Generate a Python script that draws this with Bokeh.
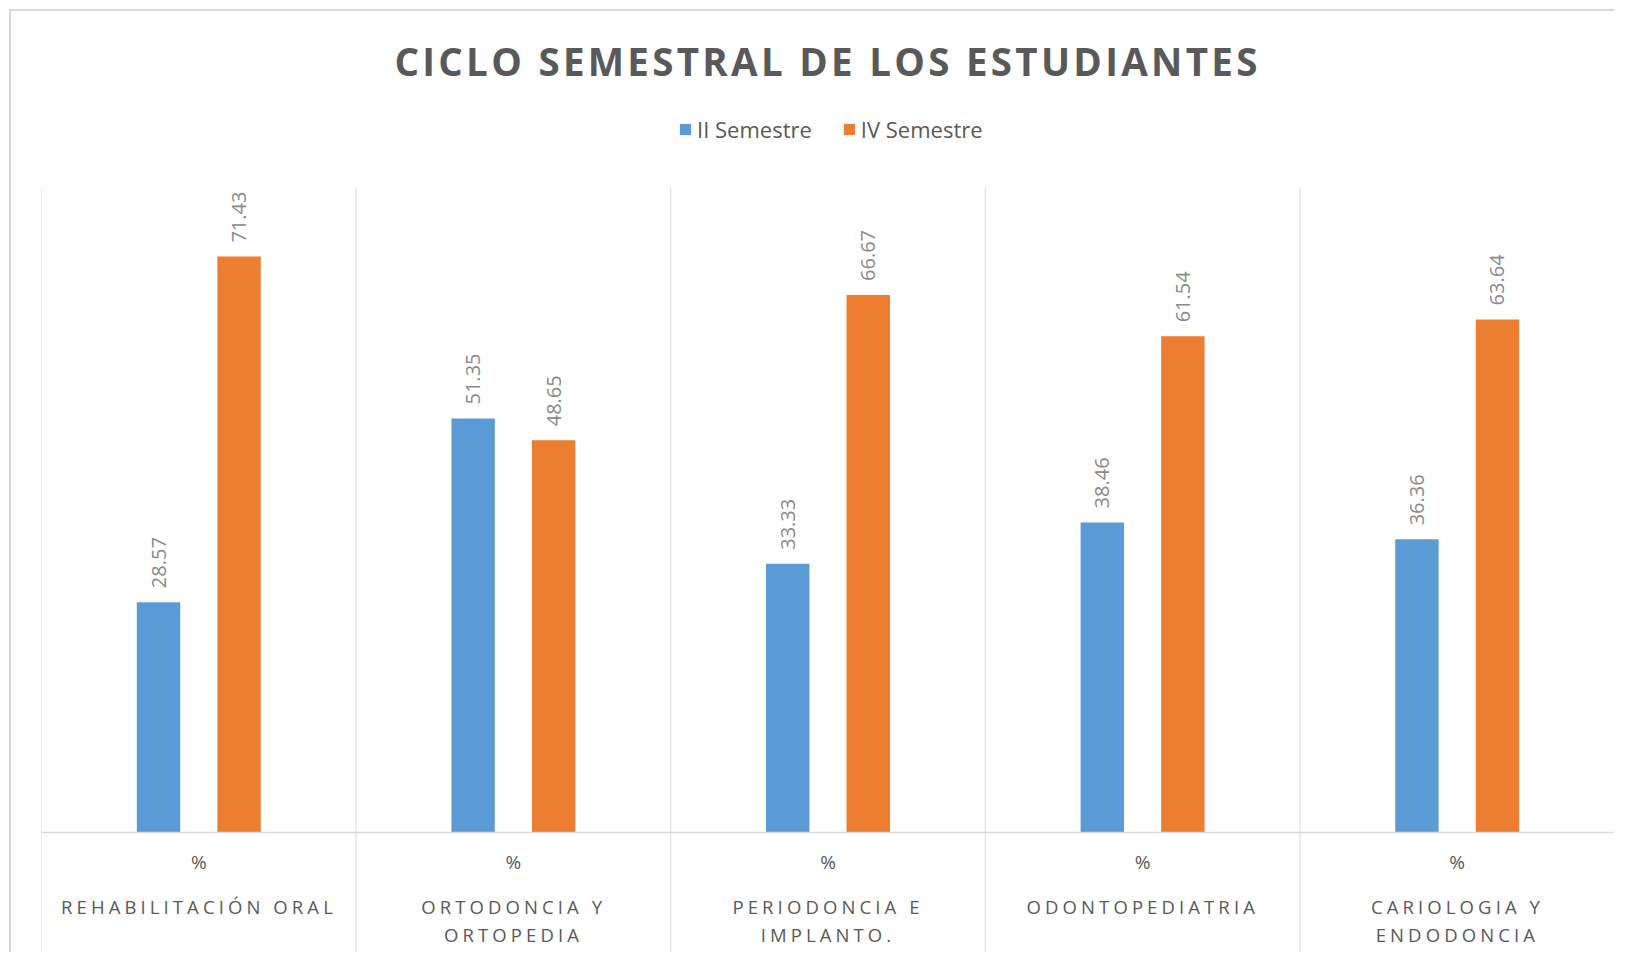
from bokeh.plotting import figure
from bokeh.models import (ColumnDataSource, FactorRange, Range1d, Span, Label,
                          Legend, LegendItem, CustomJS)
from bokeh.document import Document
from bokeh.transform import dodge
from bokeh.core.properties import value
from bokeh.embed import file_html
from bokeh.resources import INLINE
import math

# ---------------- data ----------------
categories = ["REHABILITACIÓN ORAL", "ORTODONCIA Y ORTOPEDIA",
              "PERIODONCIA E IMPLANTO.", "ODONTOPEDIATRIA",
              "CARIOLOGIA Y ENDODONCIA"]
category_labels = ["REHABILITACIÓN ORAL", "ORTODONCIA Y\nORTOPEDIA",
                   "PERIODONCIA E\nIMPLANTO.", "ODONTOPEDIATRIA",
                   "CARIOLOGIA Y\nENDODONCIA"]
unit_labels = ["%", "%", "%", "%", "%"]
series_names = ["II Semestre", "IV Semestre"]
ii_semestre = [28.57, 51.35, 33.33, 38.46, 36.36]
iv_semestre = [71.43, 48.65, 66.67, 61.54, 63.64]
title_text = "CICLO SEMESTRAL DE LOS ESTUDIANTES"

BLUE = "#5B9BD5"
ORANGE = "#ED7D31"
TXT = "#595959"
LBL = "#8a8a8a"
GRID = "#d9d9d9"
FONT = "Open Sans"

Y_TOP = 80.0       # top of the category separators
Y_MIN = -15.13
Y_MAX = 101.83

src = ColumnDataSource(dict(
    cat=categories, lab=category_labels, unit=unit_labels,
    ii=ii_semestre, iv=iv_semestre,
    ii_txt=["{:.2f}".format(v) for v in ii_semestre],
    iv_txt=["{:.2f}".format(v) for v in iv_semestre],
    zero=[0] * len(categories),
    ybot=[Y_MIN] * len(categories),
    ytop=[Y_TOP] * len(categories),
))
last = ColumnDataSource(dict(cat=categories[-1:], ybot=[Y_MIN], ytop=[Y_TOP]))

p = figure(width=1605, height=943,
           x_range=FactorRange(factors=categories, range_padding=0),
           y_range=Range1d(Y_MIN, Y_MAX),
           output_backend="svg", toolbar_location=None,
           x_axis_location=None, y_axis_location=None,
           min_border_left=30, min_border_right=2,
           min_border_top=0, min_border_bottom=0,
           background_fill_color="white", border_fill_color="white",
           styles={"margin-left": "9px", "margin-top": "9px",
                   "border-left": "2px solid #d9d9d9",
                   "border-top": "2px solid #d9d9d9"})
p.grid.visible = False
p.outline_line_color = None

# separators and baseline
p.segment(x0=dodge("cat", -0.5, range=p.x_range), x1=dodge("cat", -0.5, range=p.x_range),
          y0="ybot", y1="ytop", source=src, line_color=GRID, line_width=1)
p.segment(x0=dodge("cat", 0.5, range=p.x_range), x1=dodge("cat", 0.5, range=p.x_range),
          y0="ybot", y1="ytop", source=last, line_color=GRID, line_width=1)
p.add_layout(Span(location=0, dimension="width", line_color=GRID, line_width=1.5))

off = 0.128
bw = 0.138
r_ii = p.vbar(x=dodge("cat", -off, range=p.x_range), top="ii", width=bw,
              source=src, fill_color=BLUE, line_color=None)
r_iv = p.vbar(x=dodge("cat", off, range=p.x_range), top="iv", width=bw,
              source=src, fill_color=ORANGE, line_color=None)

# value labels (rotated)
for col, txt, d in (("ii", "ii_txt", -off), ("iv", "iv_txt", off)):
    p.text(x=dodge("cat", d, range=p.x_range), y=col, text=txt, source=src,
           angle=math.pi / 2, text_align="left", text_baseline="middle",
           y_offset=-14, text_font=value(FONT), text_font_size="20px",
           text_color=LBL)

# category labels below the baseline
p.text(x="cat", y="zero", text="unit", source=src, y_offset=29,
       text_align="center", text_baseline="middle",
       text_font=value(FONT), text_font_size="19px", text_color=TXT)
p.text(x="cat", y="zero", text="lab", source=src, y_offset=61,
       text_align="center", text_baseline="top", text_line_height=1.125,
       text_font=value(FONT), text_font_size="18.5px", text_color=TXT)

# title
p.add_layout(Label(x=786, y=894, x_units="screen", y_units="screen",
                   text=title_text, text_align="center", text_baseline="middle",
                   text_font=FONT, text_font_size="38.5px",
                   text_font_style="bold", text_color=TXT))

# legend
legend = Legend(items=[LegendItem(label=series_names[0], renderers=[r_ii]),
                       LegendItem(label=series_names[1], renderers=[r_iv])],
                orientation="horizontal", location=(637, 810),
                glyph_width=14, glyph_height=14, label_standoff=5,
                spacing=30, padding=0, margin=0,
                border_line_color=None, background_fill_alpha=0,
                label_text_font=FONT, label_text_font_size="22px",
                label_text_color=TXT)
p.add_layout(legend)

# letter spacing like the original (applied to the svg text elements)
spacing_js = CustomJS(code="""
const rules = [[18.5, 4.1, true], [38.5, 3.3, true]];
function handle(t) {
  if (t.getAttribute('data-ls') === '1') return;
  let fs = parseFloat(t.getAttribute('font-size') || '');
  if (!fs) { try { fs = parseFloat(getComputedStyle(t).fontSize || '0'); } catch (e) { fs = 0; } }
  for (const [s, ls, center] of rules) {
    if (Math.abs(fs - s) < 0.01) {
      let w0 = 0;
      try { w0 = t.getBBox().width; } catch (e) {}
      t.style.letterSpacing = ls + 'px';
      if (center) {
        let w1 = w0;
        try { w1 = t.getBBox().width; } catch (e) {}
        let dw = w1 - w0;
        if (!(dw > 0.5)) dw = Math.max(0, t.textContent.length - 1) * ls;
        const x = parseFloat(t.getAttribute('x') || '0');
        t.setAttribute('x', String(x - dw / 2));
      }
      t.setAttribute('data-ls', '1');
    }
  }
}
function walk(root) {
  root.querySelectorAll('text').forEach(handle);
  root.querySelectorAll('*').forEach(el => { if (el.shadowRoot) walk(el.shadowRoot); });
}
function apply() { try { walk(document); } catch (e) {} }
apply();
let n = 0;
const id = setInterval(() => { apply(); n += 1; if (n > 100) clearInterval(id); }, 50);
""")

doc = Document()
doc.add_root(p)
doc.js_on_event("document_ready", spacing_js)

open("out.html", "w").write(file_html(doc, INLINE))
